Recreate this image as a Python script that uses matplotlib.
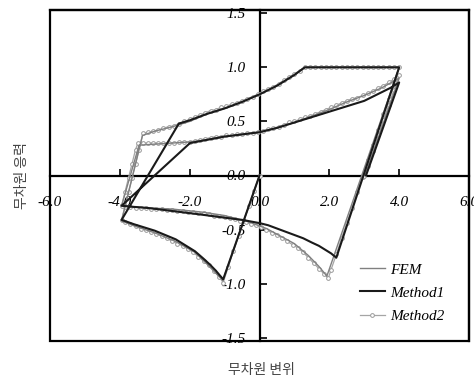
import numpy as np
import matplotlib
matplotlib.use("Agg")
import matplotlib.pyplot as plt
from matplotlib.patches import Rectangle

# ---------------- data ----------------
# Method 2 (dense analysis steps, drawn with markers), branch by branch
m2_elastic_x = [0.00, -0.15, -0.30, -0.45, -0.60, -0.75, -0.90, -1.04]
m2_elastic_y = [0.00, -0.14, -0.28, -0.42, -0.56, -0.70, -0.85, -0.99]

m2_buckle1_x = [-1.15, -1.30, -1.45, -1.60, -1.75, -1.90, -2.05, -2.20, -2.35, -2.50,
                -2.65, -2.80, -2.95, -3.10, -3.25, -3.40, -3.55, -3.70, -3.85, -3.95]
m2_buckle1_y = [-0.94, -0.88, -0.83, -0.79, -0.75, -0.71, -0.68, -0.65, -0.63, -0.61,
                -0.58, -0.56, -0.54, -0.52, -0.50, -0.49, -0.47, -0.45, -0.43, -0.41]

m2_reload1_x = [-3.85, -3.75, -3.65, -3.55, -3.45, -3.34]
m2_reload1_y = [-0.28, -0.15, -0.02, 0.11, 0.24, 0.39]

m2_tension1_x = [-3.20, -3.05, -2.90, -2.75, -2.60, -2.45, -2.30, -2.15, -2.00, -1.85,
                 -1.70, -1.55, -1.40, -1.25, -1.10, -0.95, -0.80, -0.65, -0.50, -0.35,
                 -0.20, -0.05, 0.10, 0.25, 0.40, 0.55, 0.70, 0.85, 1.00, 1.15,
                 1.30, 1.45, 1.60, 1.75, 1.90, 2.05, 2.20, 2.35, 2.50, 2.65,
                 2.80, 2.95, 3.10, 3.25, 3.40, 3.55, 3.70, 3.85, 4.00]
m2_tension1_y = [0.40, 0.41, 0.42, 0.44, 0.45, 0.46, 0.48, 0.50, 0.52, 0.54,
                 0.56, 0.58, 0.60, 0.61, 0.63, 0.64, 0.66, 0.67, 0.69, 0.71,
                 0.73, 0.75, 0.78, 0.80, 0.82, 0.85, 0.88, 0.91, 0.94, 0.97,
                 1.00, 1.00, 1.00, 1.00, 1.00, 1.00, 1.00, 1.00, 1.00, 1.00,
                 1.00, 1.00, 1.00, 1.00, 1.00, 1.00, 1.00, 1.00, 1.00]

m2_unload1_x = [3.85, 3.70, 3.55, 3.40, 3.25, 3.10, 2.95, 2.80, 2.65, 2.50, 2.35, 2.20, 2.05, 1.97]
m2_unload1_y = [0.86, 0.71, 0.57, 0.42, 0.28, 0.14, -0.01, -0.15, -0.30, -0.44, -0.58, -0.73, -0.87, -0.95]

m2_buckle2_x = [1.85, 1.70, 1.55, 1.40, 1.25, 1.10, 0.95, 0.80, 0.65, 0.50,
                0.35, 0.20, 0.05, -0.10, -0.25, -0.40, -0.55, -0.70, -0.85, -1.00,
                -1.15, -1.30, -1.45, -1.60, -1.75, -1.90, -2.05, -2.20, -2.35, -2.50,
                -2.65, -2.80, -2.95, -3.10, -3.25, -3.40, -3.55, -3.70, -3.85, -3.95]
m2_buckle2_y = [-0.91, -0.86, -0.81, -0.76, -0.71, -0.67, -0.64, -0.61, -0.58, -0.55,
                -0.53, -0.50, -0.48, -0.46, -0.45, -0.43, -0.42, -0.40, -0.39, -0.38,
                -0.37, -0.37, -0.36, -0.35, -0.35, -0.34, -0.34, -0.33, -0.33, -0.32,
                -0.32, -0.31, -0.31, -0.31, -0.30, -0.30, -0.30, -0.29, -0.29, -0.28]

m2_reload2_x = [-3.85, -3.75, -3.65, -3.55, -3.48]
m2_reload2_y = [-0.15, -0.02, 0.11, 0.24, 0.30]

m2_tension2_x = [-3.35, -3.20, -3.05, -2.90, -2.75, -2.60, -2.45, -2.30, -2.15, -2.00,
                 -1.85, -1.70, -1.55, -1.40, -1.25, -1.10, -0.95, -0.80, -0.65, -0.50,
                 -0.35, -0.20, -0.05, 0.10, 0.25, 0.40, 0.55, 0.70, 0.85, 1.00,
                 1.15, 1.30, 1.45, 1.60, 1.75, 1.90, 2.05, 2.20, 2.35, 2.50,
                 2.65, 2.80, 2.95, 3.10, 3.25, 3.40, 3.55, 3.70, 3.85, 4.00]
m2_tension2_y = [0.30, 0.30, 0.30, 0.30, 0.30, 0.30, 0.30, 0.31, 0.31, 0.31,
                 0.32, 0.33, 0.34, 0.35, 0.36, 0.36, 0.37, 0.37, 0.38, 0.38,
                 0.39, 0.39, 0.40, 0.41, 0.43, 0.44, 0.45, 0.47, 0.49, 0.50,
                 0.52, 0.54, 0.55, 0.57, 0.59, 0.61, 0.63, 0.65, 0.67, 0.69,
                 0.71, 0.72, 0.74, 0.76, 0.78, 0.81, 0.83, 0.86, 0.89, 0.93]

m2_unload2_x = [3.85, 3.70, 3.55, 3.40, 3.25, 3.10, 3.00]
m2_unload2_y = [0.79, 0.65, 0.51, 0.37, 0.23, 0.09, 0.00]

# Method 1 path
m1_x = [0.00, -1.04, -1.12, -1.25, -1.40, -1.60, -1.85, -2.10, -2.40, -2.70, -3.00,
        -3.30, -3.60, -3.95,
        -2.31, -2.00, -1.50, -1.00, -0.50, 0.00, 0.50, 1.00, 1.30, 4.00,
        2.20, 2.05, 1.90, 1.70, 1.50, 1.25, 1.00, 0.75, 0.50, 0.25, 0.00, -0.50,
        -1.00, -1.70, -2.20, -2.70, -3.20, -3.60, -3.95,
        -1.99, -1.50, -1.00, -0.50, 0.00, 0.50, 1.00, 1.50, 2.00, 2.50, 3.00,
        3.25, 3.50, 3.75, 4.00,
        3.05]
m1_y = [0.00, -0.96, -0.93, -0.88, -0.83, -0.77, -0.70, -0.65, -0.59, -0.55, -0.51,
        -0.48, -0.45, -0.41,
        0.48, 0.51, 0.57, 0.62, 0.68, 0.75, 0.83, 0.93, 1.00, 1.00,
        -0.76, -0.72, -0.69, -0.65, -0.62, -0.58, -0.55, -0.52, -0.49, -0.46, -0.44, -0.41,
        -0.39, -0.36, -0.34, -0.32, -0.30, -0.29, -0.28,
        0.30, 0.33, 0.36, 0.38, 0.40, 0.44, 0.49, 0.54, 0.59, 0.64, 0.69,
        0.73, 0.77, 0.81, 0.86,
        0.00]

# FEM path
fem_x = [0.00, -1.05, -1.20, -1.50, -1.85, -2.40, -3.00, -3.55, -3.95,
         -3.35, -3.00, -2.50, -2.00, -1.50, -1.00, -0.50, 0.00, 0.50, 1.00, 1.28, 4.00,
         1.93, 1.70, 1.40, 1.00, 0.60, 0.20, -0.30, -1.00, -1.60, -2.50, -3.20, -3.95,
         -3.45, -3.00, -2.50, -2.00, -1.50, -1.00, -0.50, 0.00, 0.50, 1.00, 1.50, 2.00,
         2.50, 3.00, 3.50, 4.00, 3.02]
fem_y = [0.00, -0.97, -0.92, -0.82, -0.71, -0.61, -0.53, -0.47, -0.42,
         0.37, 0.41, 0.45, 0.50, 0.57, 0.62, 0.68, 0.75, 0.83, 0.93, 1.00, 1.00,
         -0.93, -0.84, -0.74, -0.63, -0.56, -0.49, -0.43, -0.37, -0.34, -0.31, -0.30, -0.28,
         0.28, 0.29, 0.30, 0.31, 0.33, 0.36, 0.38, 0.40, 0.44, 0.49, 0.55, 0.61,
         0.68, 0.74, 0.81, 0.90, 0.00]

x_ticks = [-6.0, -4.0, -2.0, 0.0, 2.0, 4.0, 6.0]
y_ticks = [-1.5, -1.0, -0.5, 0.0, 0.5, 1.0, 1.5]
series_names = ["FEM", "Method1", "Method2"]
x_title = "무차원 변위"
y_title = "무차원 응력"

m2_x = np.concatenate([m2_elastic_x, m2_buckle1_x, m2_reload1_x, m2_tension1_x,
                       m2_unload1_x, m2_buckle2_x, m2_reload2_x, m2_tension2_x,
                       m2_unload2_x])
m2_y = np.concatenate([m2_elastic_y, m2_buckle1_y, m2_reload1_y, m2_tension1_y,
                       m2_unload1_y, m2_buckle2_y, m2_reload2_y, m2_tension2_y,
                       m2_unload2_y])

# ---------------- figure ----------------
W, H = 474, 380
fig = plt.figure(figsize=(W / 100, H / 100), dpi=100)
ax = fig.add_axes([50 / W, 1 - 341 / H, 419 / W, 331 / H])
ax.set_xlim(-6, 6)
ax.set_ylim(-1.53, 1.53)

serif = "Liberation Serif"
tick_font = dict(family=serif, style="italic", size=11)

ln_m2, = ax.plot(m2_x, m2_y, color="#a5a5a5", lw=0.9, marker="o", ms=2.7,
                 mfc="white", mec="#999999", mew=0.7, zorder=3)
ln_fem, = ax.plot(fem_x, fem_y, color="#808080", lw=1.0, zorder=4)
ln_m1, = ax.plot(m1_x, m1_y, color="#1a1a1a", lw=1.5, zorder=5)

# axes lines through the origin, plus the outer box
for side in ("left", "bottom"):
    ax.spines[side].set_position(("data", 0))
    ax.spines[side].set_linewidth(1.6)
for side in ("top", "right"):
    ax.spines[side].set_linewidth(1.6)
ax.add_patch(Rectangle((0, 0), 1, 1, transform=ax.transAxes, fill=False,
                       lw=1.6, ec="black", clip_on=False, zorder=6))

ax.set_xticks(x_ticks)
ax.set_yticks(y_ticks)
ax.set_xticklabels([f"{v:.1f}" for v in x_ticks], fontdict=tick_font)
ax.set_yticklabels([f"{v:.1f}" for v in y_ticks], fontdict=tick_font)
ax.tick_params(axis="x", direction="in", length=5, width=1.2, pad=15, colors="black")
ax.tick_params(axis="y", direction="in", length=5, width=1.2, pad=10, colors="black")
ax.tick_params(top=False, right=False)

ax.set_xlabel(x_title, family="Noto Sans CJK KR", size=10, color="#444444")
ax.set_ylabel(y_title, family="Noto Sans CJK KR", size=10, color="#444444")
ax.xaxis.set_label_coords(0.505, -0.065)
ax.yaxis.set_label_coords(-0.05, 0.5)

leg = ax.legend([ln_fem, ln_m1, ln_m2], series_names, loc="upper left",
                bbox_to_anchor=(0.74, 0.236), frameon=False,
                prop=dict(family=serif, style="italic", size=11),
                handlelength=1.6, handletextpad=0.35, labelspacing=0.62,
                borderpad=0, borderaxespad=0, numpoints=1)

fig.savefig("out.png", dpi=100)
